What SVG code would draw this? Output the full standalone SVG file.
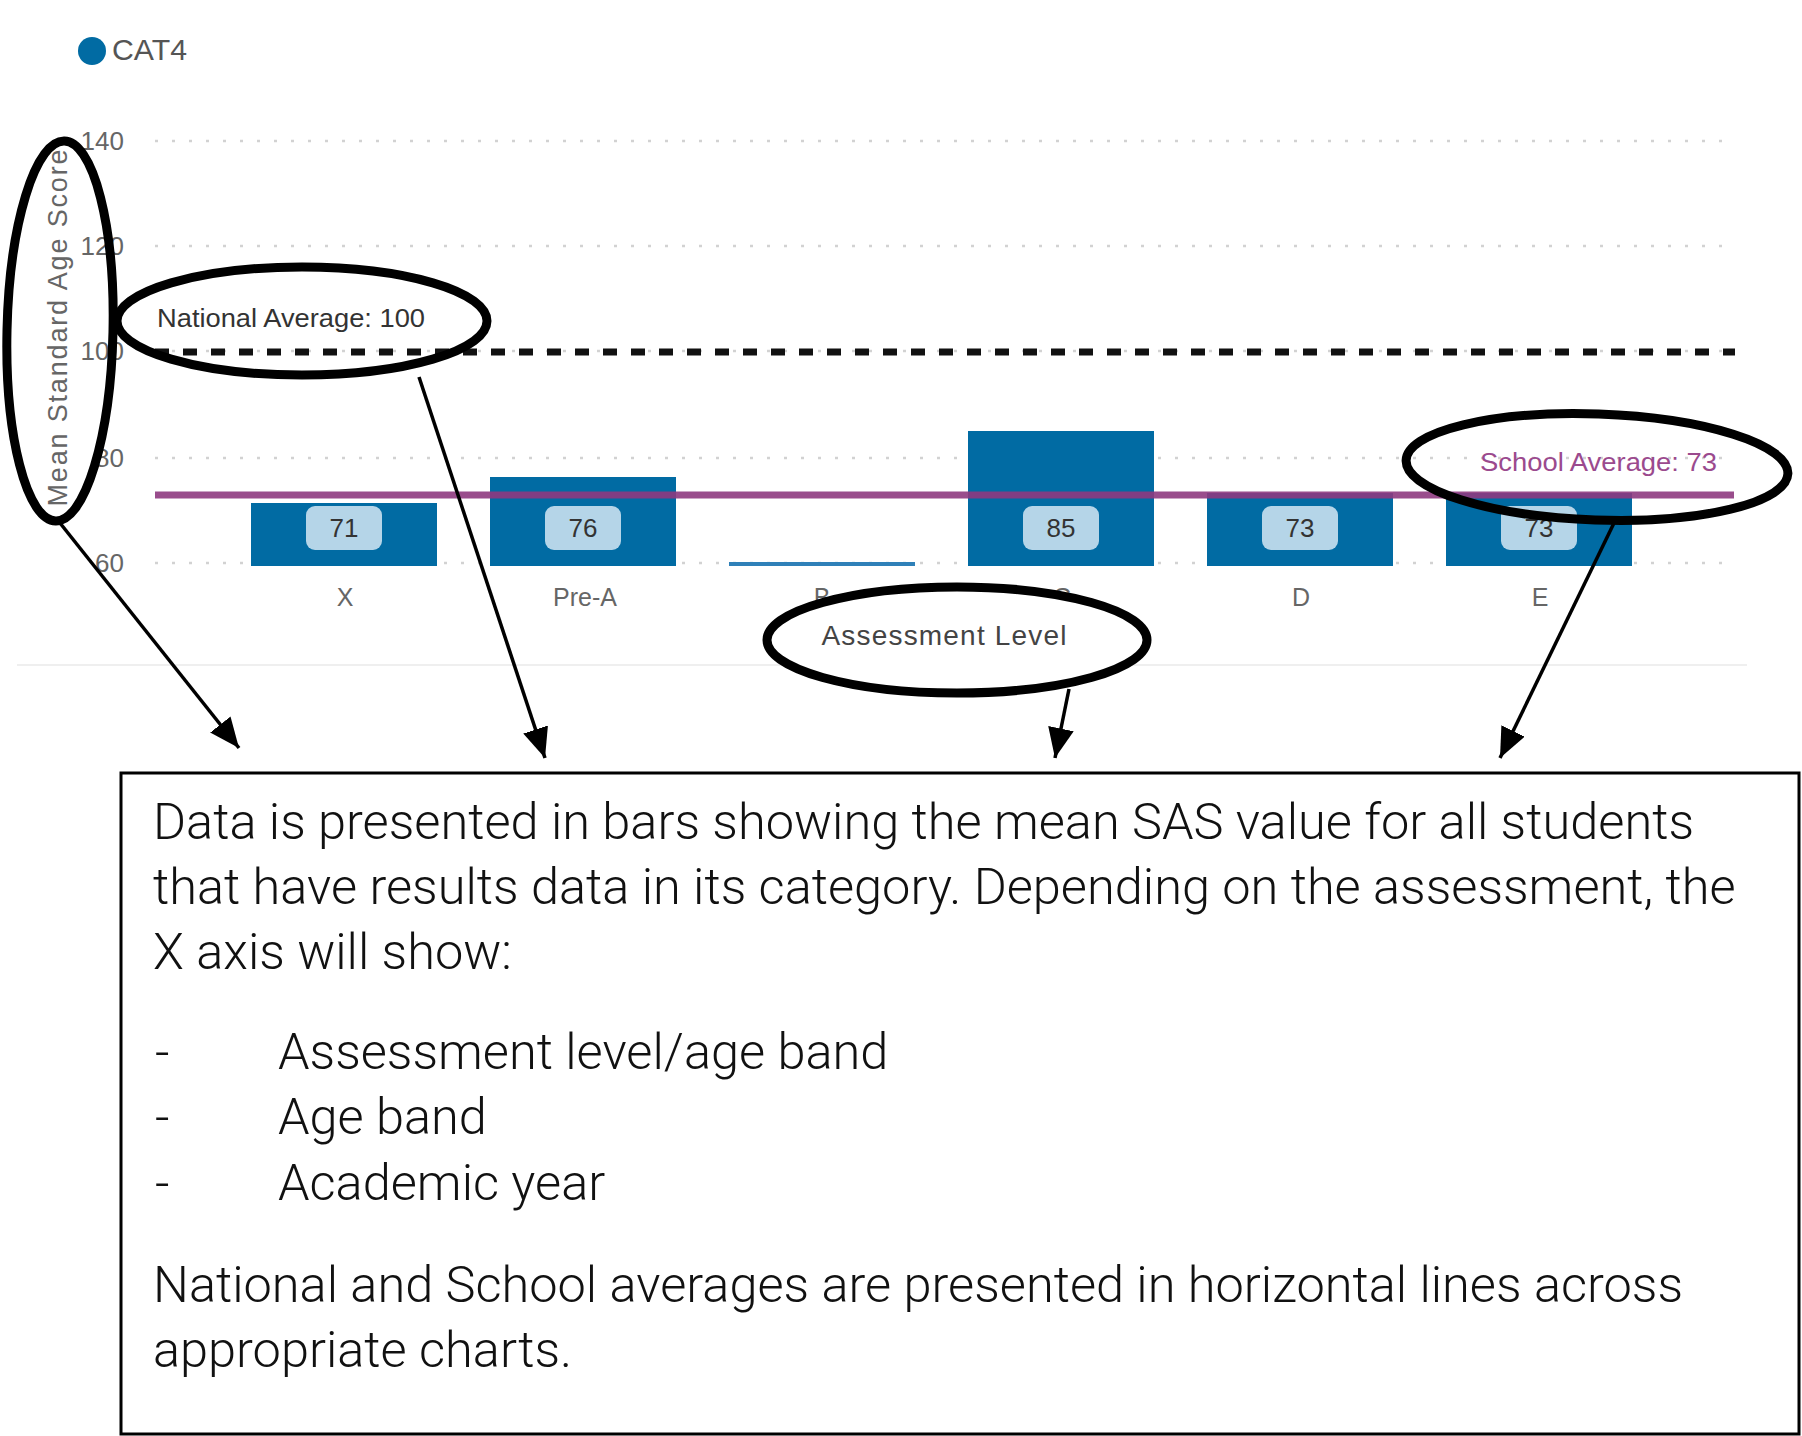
<svg xmlns="http://www.w3.org/2000/svg" width="1802" height="1436" viewBox="0 0 1802 1436">
<defs>
<style>
.grid{stroke:#d2d2d2;stroke-width:2.5;stroke-dasharray:3 14;fill:none}
.tick{font-family:"Liberation Sans",Arial,sans-serif;font-size:26px;fill:#666;text-anchor:end}
.cat{font-family:"Liberation Sans",Arial,sans-serif;font-size:25px;fill:#666;text-anchor:middle}
.bar{fill:#016ba3}
.vbox{fill:#b5d5e8}
.vtxt{font-family:"Liberation Sans",Arial,sans-serif;font-size:26px;fill:#333;text-anchor:middle}
.ring{fill:none;stroke:#000;stroke-width:9}
.conn{stroke:#000;stroke-width:3.5;fill:none;marker-end:url(#ah)}
.body{font-family:Roboto,"Liberation Sans",sans-serif;font-weight:300;font-size:50.5px;fill:#111}
</style>
<marker id="ah" markerUnits="userSpaceOnUse" markerWidth="32" markerHeight="28" refX="30" refY="13" orient="auto">
<path d="M0,0 L30,13 L0,26 z" fill="#000"/>
</marker>
</defs>
<rect width="1802" height="1436" fill="#fff"/>

<g id="chart">
<g id="legend">
<circle cx="92" cy="51" r="14" fill="#016ba3"/>
<text x="112" y="60" font-family="Liberation Sans, Arial, sans-serif" font-size="29" fill="#555" textLength="75" lengthAdjust="spacingAndGlyphs">CAT4</text>
</g>
<g id="gridlines">
<line class="grid" x1="155" y1="141" x2="1724" y2="141"/>
<line class="grid" x1="155" y1="246" x2="1724" y2="246"/>
<line class="grid" x1="155" y1="351" x2="1724" y2="351"/>
<line class="grid" x1="155" y1="458" x2="1724" y2="458"/>
<line class="grid" x1="155" y1="563" x2="1724" y2="563"/>
</g>
<g id="ticks">
<text class="tick" x="124" y="150">140</text>
<text class="tick" x="124" y="255">120</text>
<text class="tick" x="124" y="360">100</text>
<text class="tick" x="124" y="467">80</text>
<text class="tick" x="124" y="572">60</text>
</g>
<text id="yaxis-title" transform="translate(67,328) rotate(-90)" font-family="Liberation Sans, Arial, sans-serif" font-size="27" fill="#666" text-anchor="middle" textLength="357" lengthAdjust="spacing">Mean Standard Age Score</text>
<g id="bars">
<rect class="bar" x="251" y="503" width="186" height="63"/>
<rect class="bar" x="490" y="477" width="186" height="89"/>
<rect x="729" y="562" width="186" height="4" fill="#2f80b8"/>
<rect class="bar" x="968" y="431" width="186" height="135"/>
<rect class="bar" x="1207" y="493" width="186" height="73"/>
<rect class="bar" x="1446" y="493" width="186" height="73"/>
</g>
<g id="value-labels">
<rect class="vbox" x="306" y="506" width="76" height="44" rx="9"/>
<text class="vtxt" x="344" y="537">71</text>
<rect class="vbox" x="545" y="506" width="76" height="44" rx="9"/>
<text class="vtxt" x="583" y="537">76</text>
<rect class="vbox" x="1023" y="506" width="76" height="44" rx="9"/>
<text class="vtxt" x="1061" y="537">85</text>
<rect class="vbox" x="1262" y="506" width="76" height="44" rx="9"/>
<text class="vtxt" x="1300" y="537">73</text>
<rect class="vbox" x="1501" y="506" width="76" height="44" rx="9"/>
<text class="vtxt" x="1539" y="537">73</text>
</g>
<g id="categories">
<text class="cat" x="345" y="606">X</text>
<text class="cat" x="585" y="606">Pre-A</text>
<text class="cat" x="822" y="606">B</text>
<text class="cat" x="1062" y="606">C</text>
<text class="cat" x="1301" y="606">D</text>
<text class="cat" x="1540" y="606">E</text>
</g>
<line id="national-line" x1="155" y1="352" x2="1735" y2="352" stroke="#111" stroke-width="7" stroke-dasharray="14 14"/>
<text id="national-label" x="157" y="327" font-family="Liberation Sans, Arial, sans-serif" font-size="26" fill="#333" textLength="268" lengthAdjust="spacingAndGlyphs">National Average: 100</text>
<line id="school-line" x1="155" y1="495" x2="1734" y2="495" stroke="#8e3a80" stroke-width="7" opacity="0.9"/>
<text id="school-label" x="1480" y="471" font-family="Liberation Sans, Arial, sans-serif" font-size="26" fill="#9b4a8e" textLength="237" lengthAdjust="spacingAndGlyphs">School Average: 73</text>
<line id="chart-bottom" x1="17" y1="665" x2="1747" y2="665" stroke="#efefef" stroke-width="2"/>
</g>

<g id="highlight-yaxis">
<ellipse class="ring" cx="60" cy="331" rx="53" ry="190" transform="rotate(1.3 60 331)"/>
</g>
<g id="highlight-national">
<ellipse class="ring" cx="302" cy="321" rx="185" ry="54"/>
</g>
<g id="highlight-assessment">
<ellipse cx="957" cy="640" rx="190" ry="53" fill="#fff" stroke="#000" stroke-width="9"/>
<text x="944" y="645" font-family="Liberation Sans, Arial, sans-serif" font-size="28" fill="#444" text-anchor="middle" textLength="245" lengthAdjust="spacing">Assessment Level</text>
</g>
<g id="highlight-school">
<ellipse class="ring" cx="1597" cy="467" rx="191" ry="53" transform="rotate(2 1597 467)"/>
</g>

<g id="connectors">
<line class="conn" x1="60" y1="523" x2="239" y2="748"/>
<line class="conn" x1="419" y1="377" x2="545" y2="758"/>
<line class="conn" x1="1069" y1="689" x2="1055" y2="758"/>
<line class="conn" x1="1614" y1="523" x2="1500" y2="758"/>
</g>

<g id="description">
<rect x="121" y="773" width="1678" height="661" fill="#fff" stroke="#000" stroke-width="3"/>
<text class="body" x="153" y="839">Data is presented in bars showing the mean SAS value for all students</text>
<text class="body" x="153" y="904">that have results data in its category. Depending on the assessment, the</text>
<text class="body" x="153" y="969">X axis will show:</text>
<text class="body" x="155" y="1069">-</text>
<text class="body" x="278" y="1069">Assessment level/age band</text>
<text class="body" x="155" y="1134">-</text>
<text class="body" x="278" y="1134">Age band</text>
<text class="body" x="155" y="1200">-</text>
<text class="body" x="278" y="1200">Academic year</text>
<text class="body" x="153" y="1302">National and School averages are presented in horizontal lines across</text>
<text class="body" x="153" y="1367">appropriate charts.</text>
</g>
</svg>
